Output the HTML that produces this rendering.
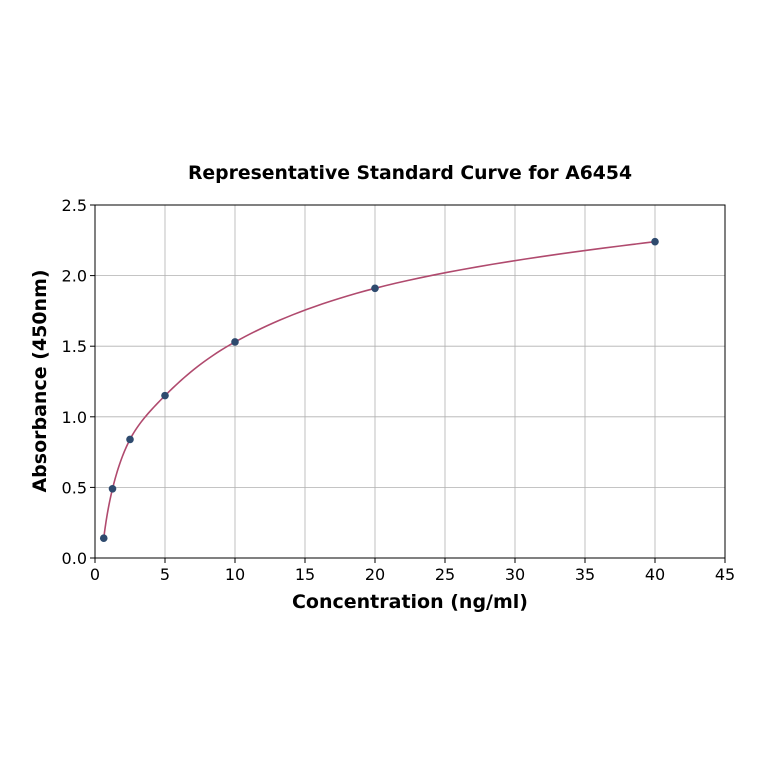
<!DOCTYPE html>
<html><head><meta charset="utf-8"><style>
body{margin:0;background:#fff;}
svg{display:block;font-family:"DejaVu Sans","Liberation Sans",sans-serif;}
</style></head><body>
<svg id="chart" width="764" height="764" viewBox="0 0 764 764">
<rect width="764" height="764" fill="#fff"/>
<text x="410" y="179" text-anchor="middle" font-size="18.8" font-weight="bold">Representative Standard Curve for A6454</text>
<g id="grid"></g>
<g id="ticks"></g>
<path id="curve" fill="none" stroke="#b04a6e" stroke-width="1.6"/>
<g id="points"></g>
<rect x="95" y="205" width="630" height="353" fill="none" stroke="#000" stroke-width="1"/>
<text x="410" y="608" text-anchor="middle" font-size="19" font-weight="bold">Concentration (ng/ml)</text>
<text transform="translate(46,381) rotate(-90)" text-anchor="middle" font-size="19" font-weight="bold">Absorbance (450nm)</text>
</svg>
<script>
const xValues=[0.625,1.25,2.5,5,10,20,40];
const yValues=[0.14,0.49,0.84,1.15,1.53,1.91,2.24];
const xTicks=[0,5,10,15,20,25,30,35,40,45];
const yTicks=[0,0.5,1.0,1.5,2.0,2.5];
const yTickLabels=["0.0","0.5","1.0","1.5","2.0","2.5"];
const X0=95,X1=725,Y0=558,Y1=205;
const sx=v=>X0+(v-0)/(45-0)*(X1-X0);
const sy=v=>Y0-(v-0)/(2.5-0)*(Y0-Y1);
const NS="http://www.w3.org/2000/svg";
const grid=document.getElementById('grid'),ticks=document.getElementById('ticks'),pts=document.getElementById('points');
function mk(tag,attrs,parent){const e=document.createElementNS(NS,tag);for(const k in attrs)e.setAttribute(k,attrs[k]);parent.appendChild(e);return e;}
xTicks.forEach(t=>{
 const x=sx(t);
 const g=mk('line',{x1:x,x2:x,y1:Y1,y2:Y0,stroke:'#b0b0b0','stroke-width':0.8},grid);
 
 
 const tk=mk('line',{x1:x,x2:x,y1:Y0,y2:Y0+5,stroke:'#000'},ticks);
 
 
 const l=mk('text',{x:x,y:Y0+22,'text-anchor':'middle','font-size':16},ticks);
 l.textContent=t;
 
 
});
yTicks.forEach((t,i)=>{
 const y=sy(t);
 const g=mk('line',{x1:X0,x2:X1,y1:y,y2:y,stroke:'#b0b0b0','stroke-width':0.8},grid);
 
 
 const tk=mk('line',{x1:X0-5,x2:X0,y1:y,y2:y,stroke:'#000'},ticks);
 
 
 const l=mk('text',{x:X0-8,y:y+6,'text-anchor':'end','font-size':16},ticks);
 l.textContent=yTickLabels[i];
 
 
});
const lx=xValues.map(Math.log);
let d='';
for(let i=0;i<xValues.length-1;i++){
 const p0=i>0?i-1:i,p3=i+2<xValues.length?i+2:i+1;
 for(let s=0;s<=20;s++){
  const t=s/20,t2=t*t,t3=t2*t;
  const cr=(a,b,c,e)=>0.5*((2*b)+(-a+c)*t+(2*a-5*b+4*c-e)*t2+(-a+3*b-3*c+e)*t3);
  const u=cr(lx[p0],lx[i],lx[i+1],lx[p3]);
  const v=cr(yValues[p0],yValues[i],yValues[i+1],yValues[p3]);
  d+=(d?'L':'M')+sx(Math.exp(u)).toFixed(2)+','+sy(v).toFixed(2);
 }
}
document.getElementById('curve').setAttribute('d',d);
xValues.forEach((xv,i)=>{
 const c=mk('circle',{cx:sx(xv),cy:sy(yValues[i]),r:3.8,fill:'#2e4a6e'},pts);
 
 
});
</script>
</body></html>
